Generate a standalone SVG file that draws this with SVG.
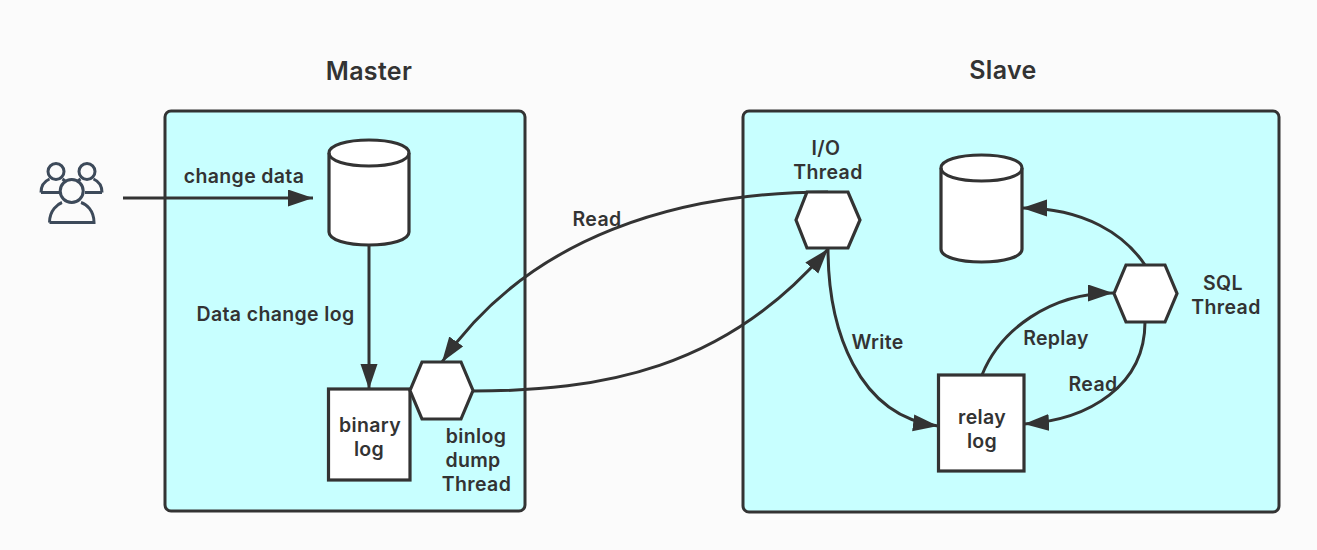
<svg xmlns="http://www.w3.org/2000/svg" width="1317" height="550" viewBox="0 0 1317 550">
<style>
.box{fill:#c8ffff;stroke:#333;stroke-width:3}
.n{fill:#fff;stroke:#333;stroke-width:3.2}
.n2{fill:none;stroke:#333;stroke-width:3}
.c{fill:none;stroke:#333;stroke-width:3}
.ic{fill:none;stroke:#3d4a5a;stroke-width:3}
text{font-family:Inter,"Noto Sans","Liberation Sans",sans-serif;font-weight:600;font-size:19.500px;letter-spacing:.35px;fill:#333;text-anchor:middle}
.t{font-size:25px}
</style>
<defs>
<marker id="a" markerUnits="userSpaceOnUse" markerWidth="26" markerHeight="18" refX="25" refY="8.500" orient="auto"><path d="M0 0L25 8.500L0 17Z" fill="#333"/></marker>
</defs>
<rect width="1317" height="550" fill="#fbfbfb"/>
<g id="master"><rect class="box" x="165" y="111" width="360" height="400" rx="6"/><text class="t" x="369" y="80">Master</text></g>
<g id="slave"><rect class="box" x="743" y="111" width="536" height="401" rx="6"/><text class="t" x="1003" y="79">Slave</text></g>
<g id="users">
<circle class="ic" cx="71.700" cy="191" r="11.500"/><path class="ic" d="M49.500 222.500C49.500 210 58 204 62 202.500M81 202.500C86 204 94 210 94 222.500H49.500"/>
<circle class="ic" cx="56" cy="171.500" r="8"/><path class="ic" d="M41 192.500C41 185 45 181 49.500 179M62.500 179C64 180 65 181 66 182M41 192.500H59"/>
<circle class="ic" cx="87" cy="171.500" r="8"/><path class="ic" d="M102 192.500C102 185 98 181 93.500 179M80.500 179C79 180 78 181 77 182M102 192.500H85"/>
</g>
<g id="connectors">
<path class="c" marker-end="url(#a)" d="M123 198H313"/>
<path class="c" marker-end="url(#a)" d="M369 245V389"/>
<path class="c" marker-end="url(#a)" d="M828 192C680 192 530 235 442 362"/>
<path class="c" marker-end="url(#a)" d="M473 391C600 391 725 370 828 249"/>
<path class="c" marker-end="url(#a)" d="M828 248C828 330 858 416 938 426"/>
<path class="c" marker-end="url(#a)" d="M982 375C1000 330 1050 293 1113 293"/>
<path class="c" marker-end="url(#a)" d="M1145 322C1145 385 1090 420 1024 424"/>
<path class="c" marker-end="url(#a)" d="M1145 265C1125 235 1085 208 1022 208"/>
</g>
<g id="db-master"><path class="n" d="M329 153V232C329 240 347 245 369 245S409 240 409 232V153C409 145 391 140 369 140S329 145 329 153Z"/><path class="n2" d="M329 153C329 161 347 166 369 166S409 161 409 153"/></g>
<g id="binary-log"><rect class="n" x="328.500" y="389" width="81.500" height="91"/><text x="370" y="432">binary</text><text x="369" y="456">log</text></g>
<g id="binlog-dump"><path class="n" d="M422 362H461L473 390.500L461 419H422L410 390.500Z"/><text x="476" y="443">binlog</text><text x="473" y="467">dump</text><text x="476.500" y="491">Thread</text></g>
<g id="io-thread"><path class="n" d="M807 192H848L860 220L848 248H807L796 220Z"/><text x="826" y="155">I/O</text><text x="828" y="179">Thread</text></g>
<g id="db-slave"><path class="n" d="M941 168V249C941 257 959 262 981.500 262S1022 257 1022 249V168C1022 160 1004 155 981.500 155S941 160 941 168Z"/><path class="n2" d="M941 168C941 176 959 181 981.500 181S1022 176 1022 168"/></g>
<g id="sql-thread"><path class="n" d="M1126 265H1165L1177 293.500L1165 322H1126L1114 293.500Z"/><text x="1223" y="290">SQL</text><text x="1226" y="314">Thread</text></g>
<g id="relay-log"><rect class="n" x="938.500" y="375" width="85.500" height="96"/><text x="982" y="424">relay</text><text x="982" y="448">log</text></g>
<g id="labels">
<text x="244" y="183">change data</text>
<text x="275.500" y="321">Data change log</text>
<text x="597" y="226">Read</text>
<text x="877.500" y="349">Write</text>
<text x="1056" y="345">Replay</text>
<text x="1093" y="391">Read</text>
</g>
</svg>
